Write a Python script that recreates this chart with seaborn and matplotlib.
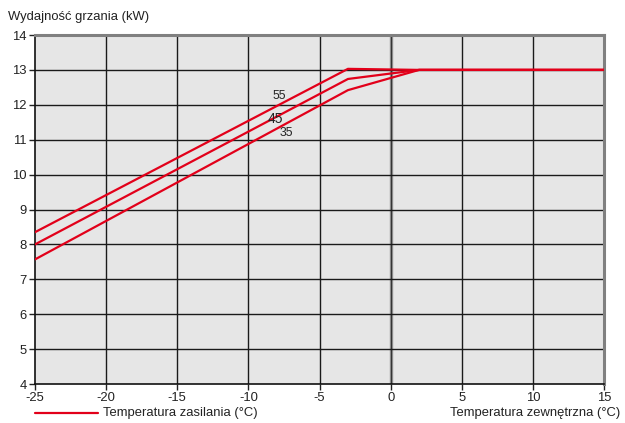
import matplotlib
matplotlib.use("Agg")
import matplotlib.pyplot as plt
import seaborn as sns
import pandas as pd

# Heating capacity vs outdoor temperature for three supply temperatures
outdoor_temp = [-25, -3, 2, 15]
capacity_55 = [8.35, 13.03, 13.0, 13.0]
capacity_45 = [8.0, 12.74, 13.0, 13.0]
capacity_35 = [7.57, 12.42, 13.0, 13.0]
supply_labels = ["55", "45", "35"]
label_pos_x = [-7.8, -8.1, -7.35]
label_pos_y = [12.25, 11.6, 11.2]

x_ticks = [-25, -20, -15, -10, -5, 0, 5, 10, 15]
y_ticks = [4, 5, 6, 7, 8, 9, 10, 11, 12, 13, 14]

rows = []
for lbl, vals in zip(supply_labels, [capacity_55, capacity_45, capacity_35]):
    for t, v in zip(outdoor_temp, vals):
        rows.append({"temp": t, "cap": v, "supply": lbl})
df = pd.DataFrame(rows)

sns.set_theme(style="white")
plt.rcParams["font.family"] = ["Liberation Sans", "DejaVu Sans"]

RED = "#e2001a"
FS = 9.4
fig = plt.figure(figsize=(6.25, 4.23), dpi=100)
ax = fig.add_axes([35 / 625, 1 - 384 / 423, (604 - 35) / 625, (384 - 35) / 423])
ax.set_facecolor("#e6e6e6")

# grid lines
for xv in x_ticks[1:-1]:
    if xv == 0:
        ax.axvline(xv, color="#8a8a8a", lw=2.4, zorder=1)
        ax.axvline(xv, color="#333333", lw=0.7, zorder=1)
    else:
        ax.axvline(xv, color="#1a1a1a", lw=1.0, zorder=1)
for yv in y_ticks[1:-1]:
    ax.axhline(yv, color="#1a1a1a", lw=1.0, zorder=1)

sns.lineplot(data=df, x="temp", y="cap", units="supply", estimator=None,
             color=RED, lw=1.6, ax=ax, zorder=3, legend=False)

for lbl, lx, ly in zip(supply_labels, label_pos_x, label_pos_y):
    ax.text(lx, ly, lbl, fontsize=10 if lbl == "45" else 8.8,
            ha="center", va="center", color="#222222", zorder=4)

ax.set_xlim(-25, 15)
ax.set_ylim(4, 14)
ax.set_xticks(x_ticks)
ax.set_yticks(y_ticks)
ax.set_xticklabels([str(v) for v in x_ticks])
ax.set_yticklabels([str(v) for v in y_ticks])
ax.tick_params(axis="both", labelsize=FS, colors="#222222", length=4,
               width=1, direction="out", pad=2, bottom=True, left=True)
ax.set_xlabel("")
ax.set_ylabel("")

for side in ["left", "bottom"]:
    ax.spines[side].set_color("#111111")
    ax.spines[side].set_linewidth(1.2)
for side in ["top", "right"]:
    ax.spines[side].set_color("#808080")
    ax.spines[side].set_linewidth(2.2)

fig.text(8 / 625, 1 - 17 / 423, "Wydajność grzania (kW)", fontsize=FS,
         ha="left", va="center", color="#222222")
fig.text(620 / 625, 1 - 413 / 423, "Temperatura zewnętrzna (°C)", fontsize=FS,
         ha="right", va="center", color="#222222")
fig.add_artist(plt.Line2D([35 / 625, 98 / 625], [1 - 413 / 423, 1 - 413 / 423],
                          color=RED, lw=1.6))
fig.text(103 / 625, 1 - 413 / 423, "Temperatura zasilania (°C)", fontsize=FS,
         ha="left", va="center", color="#222222")

fig.savefig("out.png", dpi=100)
